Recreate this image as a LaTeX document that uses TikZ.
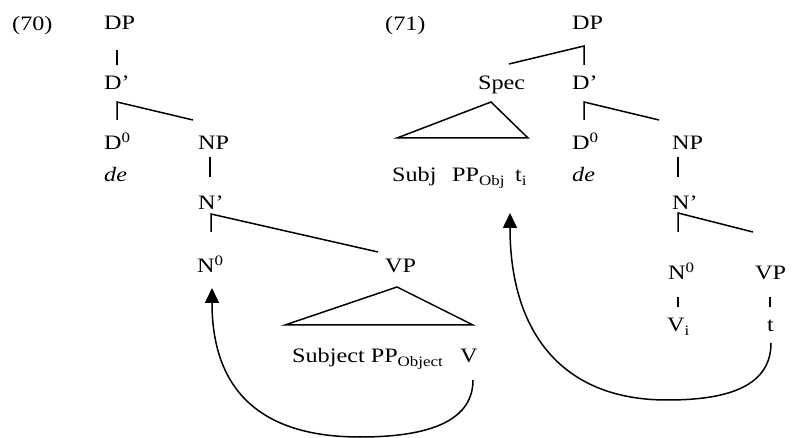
\documentclass[tikz,border=0pt]{standalone}
\usepackage{fontspec}
\setmainfont{Liberation Serif}[FakeStretch=1.18]
\usetikzlibrary{arrows.meta}
\begin{document}
\begin{tikzpicture}[x=1pt,y=-1pt,
  lbl/.style={anchor=base west,inner sep=0pt,font=\fontsize{20.5}{24}\selectfont},
  br/.style={line width=1.5pt},
  mv/.style={line width=1.5pt,-{Triangle[width=14pt,length=15pt]}}]
\useasboundingbox (0,0) rectangle (793,438);
% labels, tree (70)
\node[lbl] (t70) at (12,31) {(70)};
\node[lbl] (dpA) at (104,30) {DP};
\node[lbl] (dbA) at (104,90) {D’};
\node[lbl] (d0A) at (104,150) {D\textsuperscript{0}};
\node[lbl] (deA) at (104,182) {\itshape de};
\node[lbl] (npA) at (198,150) {NP};
\node[lbl] (nbA) at (198,210) {N’};
\node[lbl] (n0A) at (197,273) {N\textsuperscript{0}};
\node[lbl] (vpA) at (385,273) {VP};
\node[lbl] (subjA) at (292,363) {Subject PP\textsubscript{Object}};
\node[lbl] (vA) at (460,363) {V};
% labels, tree (71)
\node[lbl] (t71) at (385,31) {(71)};
\node[lbl] (dpB) at (572,30) {DP};
\node[lbl] (specB) at (478,90) {Spec};
\node[lbl] (dbB) at (572,90) {D’};
\node[lbl] (subjB) at (392,182) {Subj};
\node[lbl] (ppB) at (452,182) {PP\textsubscript{Obj}};
\node[lbl] (tiB) at (515,182) {t\textsubscript{i}};
\node[lbl] (d0B) at (572,150) {D\textsuperscript{0}};
\node[lbl] (deB) at (572,182) {\itshape de};
\node[lbl] (npB) at (672,150) {NP};
\node[lbl] (nbB) at (672,210) {N’};
\node[lbl] (n0B) at (668,280) {N\textsuperscript{0}};
\node[lbl] (vpB) at (755,280) {VP};
\node[lbl] (viB) at (667,332) {V\textsubscript{i}};
\node[lbl] (tB) at (767,332) {t};
% branch points (70)
\coordinate (a1) at (117,50); \coordinate (a2) at (117,65);
\coordinate (a3) at (117,102); \coordinate (a4) at (117,120); \coordinate (a5) at (193,120);
\coordinate (a6) at (210,157); \coordinate (a7) at (210,177);
\coordinate (a8) at (211,214); \coordinate (a9) at (211,232); \coordinate (a10) at (378,252);
\coordinate (ta) at (397,287); \coordinate (tb) at (285,325); \coordinate (tc) at (473,325);
% branch points (71)
\coordinate (b1) at (584,46); \coordinate (b2) at (584,65); \coordinate (b3) at (509,64);
\coordinate (b4) at (584,102); \coordinate (b5) at (584,120); \coordinate (b6) at (659,120);
\coordinate (b7) at (678,157); \coordinate (b8) at (678,177);
\coordinate (b9) at (678,213); \coordinate (b10) at (678,232); \coordinate (b11) at (753,232);
\coordinate (b12) at (678,297); \coordinate (b13) at (678,307);
\coordinate (b14) at (770,297); \coordinate (b15) at (770,307);
\coordinate (sa) at (491,102); \coordinate (sb) at (397,138); \coordinate (sc) at (528,138);
% movement ends
\coordinate (mA0) at (473,380); \coordinate (mA1) at (360,437); \coordinate (mA2) at (212,288);
\coordinate (mB0) at (771,343); \coordinate (mB1) at (667,400); \coordinate (mB2) at (510,213);
% tree (70)
\draw[br] (a1) -- (a2);
\draw[br] (a5) -- (a3) -- (a4);
\draw[br] (a6) -- (a7);
\draw[br] (a10) -- (a8) -- (a9);
\draw[br] (ta) -- (tb) -- (tc) -- cycle;
% tree (71)
\draw[br] (b3) -- (b1) -- (b2);
\draw[br] (b6) -- (b4) -- (b5);
\draw[br] (b7) -- (b8);
\draw[br] (b11) -- (b9) -- (b10);
\draw[br] (b12) -- (b13);
\draw[br] (b14) -- (b15);
\draw[br] (sa) -- (sb) -- (sc) -- cycle;
% movement arrows
\draw[mv] (mA0) .. controls (473,425) and (420,437) .. (mA1) .. controls (250,437) and (212,380) .. (mA2);
\draw[mv] (mB0) .. controls (771,390) and (720,400) .. (mB1) .. controls (560,400) and (510,330) .. (mB2);
\end{tikzpicture}
\end{document}
